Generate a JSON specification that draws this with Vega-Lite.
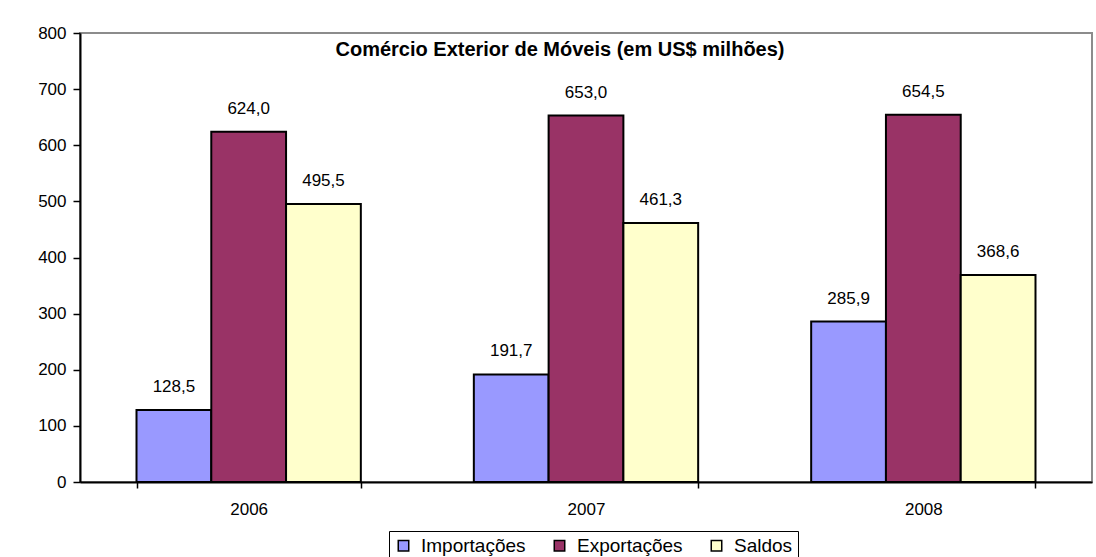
{
  "$schema": "https://vega.github.io/schema/vega-lite/v6.json",
  "autosize": "none",
  "width": 1012,
  "height": 449,
  "padding": {"left": 80, "top": 33, "right": 4, "bottom": 75},
  "background": "white",
  "config": {
    "font": "Liberation Sans",
    "view": {"stroke": "#8c8c8c", "strokeWidth": 2},
    "locale": {"number": {"decimal": ",", "thousands": ".", "grouping": [3], "currency": ["R$", ""]}}
  },
  "title": {
    "text": "Comércio Exterior de Móveis (em US$ milhões)",
    "orient": "top",
    "anchor": "middle",
    "offset": -36,
    "dx": -26,
    "fontSize": 20,
    "fontWeight": "bold",
    "color": "black"
  },
  "data": {
    "values": [
      {"ano": "2006", "serie": "Importações", "valor": 128.5},
      {"ano": "2006", "serie": "Exportações", "valor": 624.0},
      {"ano": "2006", "serie": "Saldos", "valor": 495.5},
      {"ano": "2007", "serie": "Importações", "valor": 191.7},
      {"ano": "2007", "serie": "Exportações", "valor": 653.0},
      {"ano": "2007", "serie": "Saldos", "valor": 461.3},
      {"ano": "2008", "serie": "Importações", "valor": 285.9},
      {"ano": "2008", "serie": "Exportações", "valor": 654.5},
      {"ano": "2008", "serie": "Saldos", "valor": 368.6}
    ]
  },
  "encoding": {
    "x": {
      "field": "ano", "type": "nominal",
      "scale": {"paddingInner": 0.335, "paddingOuter": 0.1675},
      "axis": {
        "title": null, "labelAngle": 0, "labelFontSize": 17, "labelColor": "black",
        "labelPadding": 13, "tickBand": "extent", "tickColor": "black", "tickSize": 6,
        "domainColor": "black", "domainWidth": 2, "tickWidth": 1.5
      }
    },
    "xOffset": {"field": "serie", "type": "nominal", "sort": ["Importações", "Exportações", "Saldos"], "scale": {"paddingInner": 0, "paddingOuter": 0}},
    "y": {
      "field": "valor", "type": "quantitative",
      "scale": {"domain": [0, 800], "nice": false},
      "axis": {
        "title": null, "values": [0, 100, 200, 300, 400, 500, 600, 700, 800], "grid": false,
        "labelFontSize": 17, "labelColor": "black", "labelPadding": 7, "format": "d",
        "tickColor": "black", "tickSize": 7, "tickWidth": 1.5, "domainColor": "black", "domainWidth": 2
      }
    }
  },
  "layer": [
    {
      "mark": {"type": "bar", "stroke": "black", "strokeWidth": 2},
      "encoding": {
        "color": {
          "field": "serie", "type": "nominal",
          "sort": ["Importações", "Exportações", "Saldos"],
          "scale": {"domain": ["Importações", "Exportações", "Saldos"], "range": ["#9999FF", "#993366", "#FFFFCC"]},
          "legend": {
            "title": null, "orient": "none", "direction": "horizontal",
            "legendX": 309, "legendY": 498,
            "symbolType": "square", "symbolSize": 110, "symbolStrokeColor": "black", "symbolStrokeWidth": 1.5,
            "labelFontSize": 19, "labelColor": "black", "columnPadding": 24, "labelOffset": 8,
            "strokeColor": "black", "padding": 5, "fillColor": "white"
          }
        }
      }
    },
    {
      "mark": {"type": "text", "baseline": "middle", "dy": -23, "fontSize": 17, "color": "black"},
      "encoding": {
        "text": {"field": "valor", "type": "quantitative", "format": ".1f"}
      }
    }
  ]
}
